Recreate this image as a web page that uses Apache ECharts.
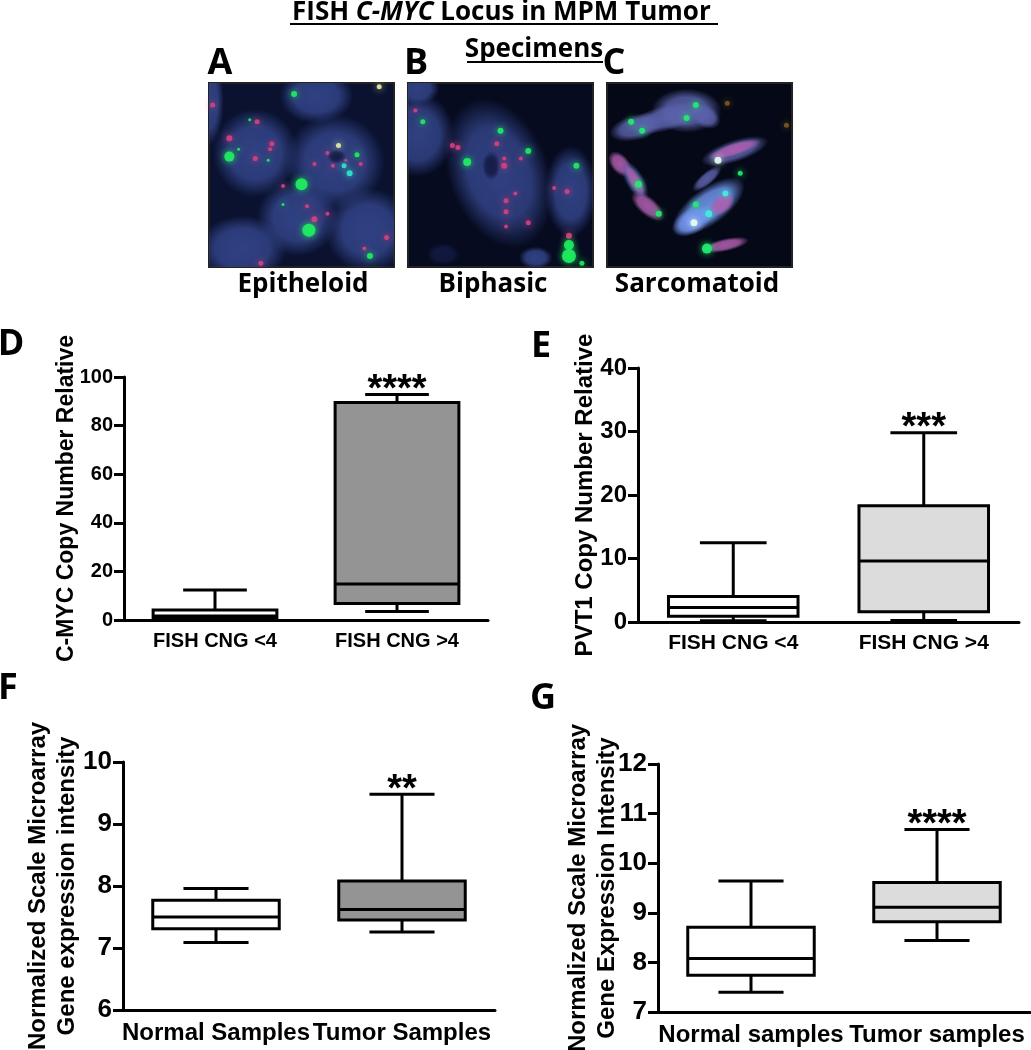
<!DOCTYPE html>
<html>
<head>
<meta charset="utf-8">
<title>FISH C-MYC</title>
<script src="https://cdn.jsdelivr.net/npm/echarts@6/dist/echarts.min.js"></script>
<style>
html, body { margin: 0; padding: 0; background: #fff; }
#main { width: 1031px; height: 1050px; }
</style>
</head>
<body>
<div id="main"></div>
<script>
// box rows are low, q1, median, q3, high
var catsCng = ["FISH CNG <4", "FISH CNG >4"];
var catsF = ["Normal Samples", "Tumor Samples"];
var catsG = ["Normal samples", "Tumor samples"];
var boxD = [[0.1, 0.7, 1.6, 4.1, 12.3], [3.5, 6.8, 14.8, 89.5, 92.8]];
var boxE = [[0.2, 0.9, 2.3, 4.0, 12.5], [0.25, 1.6, 9.6, 18.3, 29.8]];
var boxF = [[7.09, 7.31, 7.5, 7.77, 7.96], [7.26, 7.45, 7.62, 8.08, 9.48]];
var boxG = [[7.4, 7.74, 8.08, 8.71, 9.64], [8.44, 8.82, 9.11, 9.61, 10.68]];
var starsD = "****";
var starsE = "***";
var starsF = "**";
var starsG = "****";

// micrograph panels, coordinates are percent of the image
// nuclei rows are x, y, rx, ry, angle, kind (0 blue, 1 pink, 2 bright blue, 3 lilac, 4 dark hole)
var nucleiA = [[48, 73, 22, 21, 0, 0], [25, 38, 23, 24, 0, 0], [68, 43, 27, 26, 0, 0], [58, 7, 20, 15, 0, 0], [86, 80, 23, 23, 0, 0],
  [18, 90, 24, 18, 0, 0], [0, 10, 8, 24, 0, 0], [69, 40, 5, 4, 0, 4]];
var nucleiB = [[49, 49, 27, 42, 20, 0], [5, 28, 20, 23, 0, 0], [88, 59, 14, 25, 0, 0], [69, 95, 9, 6, 0, 0], [19, 93, 9, 6, 0, 4], [5, 3, 12, 9, 0, 0], [45, 45, 5, 8, 0, 4]];
var nucleiC = [[16, 24, 15, 7, 15, 3], [32, 19, 22, 7, 15, 3], [43, 15, 19, 12, 0, 3], [53, 18, 9, 6, -30, 3],
  [69, 37, 19, 6, 18, 3], [69, 36, 15, 3.5, 18, 1], [7, 44, 8, 5, -50, 1], [15, 53, 12, 5, -60, 3], [15, 53, 10, 3, -60, 1], [22, 67, 11, 5, -40, 1],
  [54, 52, 10, 3.5, 40, 3], [55, 67, 23, 10, 36, 2], [46, 75, 12, 7, 30, 2], [62, 66, 8, 5, 36, 1], [64, 88, 13, 3.5, 12, 1]];
var greenA = [[46, 6, 6], [11, 40, 10], [50, 55, 12], [54, 80, 13], [87, 94, 6], [80, 39, 5], [32, 42, 3], [16, 36, 3], [40, 66, 3], [22, 20, 3]];
var cyanA = [[73, 45, 5], [76, 49, 6]];
var whiteA = [[70, 34, 5], [92, 2, 5]];
var redA = [[2, 12, 5], [26, 21, 5], [11, 30, 6], [34, 33, 5], [33, 36, 4], [25, 41, 5], [64, 38, 4], [57, 44, 4], [82, 44, 4], [40, 56, 4],
  [53, 67, 4], [57, 74, 6], [64, 71, 4], [96, 84, 5], [84, 90, 4], [28, 98, 5], [74, 42, 3], [67, 45, 4]];
var greenB = [[50, 26, 6], [8, 21, 5], [65, 37, 6], [32, 43, 8], [91, 45, 6], [87, 88, 10], [87, 94, 14], [94, 98, 5]];
var redB = [[4, 15, 4], [24, 34, 5], [27, 35, 5], [48, 33, 5], [52, 45, 6], [52, 41, 4], [61, 41, 4], [58, 60, 4], [53, 64, 5], [53, 70, 5],
  [53, 78, 4], [65, 76, 5], [86, 59, 5], [79, 57, 4], [87, 83, 6]];
var greenC = [[48, 12, 6], [43, 19, 6], [13, 21, 6], [19, 26, 6], [72, 49, 5], [17, 55, 7], [28, 71, 6], [48, 66, 6], [54, 90, 10]];
var cyanC = [[64, 60, 6], [55, 71, 7]];
var whiteC = [[60, 42, 7], [47, 76, 7]];
var dimC = [[65, 11, 5], [97, 23, 5]];

var font = "Liberation Sans";
var headFont = "Open Sans";

var chartDom = document.getElementById("main");
var myChart = echarts.init(chartDom);

var fills = [
  "rgba(52,70,140,",
  "rgba(175,95,175,",
  "rgba(115,150,240,",
  "rgba(92,98,172,",
  "rgba(18,26,66,",
];

function renderNucleus(params, api) {
  var p = api.coord([api.value(0), api.value(1)]);
  var s = api.size([api.value(2), api.value(3)]);
  var c = fills[api.value(5)];
  return {
    type: "circle",
    x: p[0],
    y: p[1],
    scaleX: s[0],
    scaleY: s[1],
    rotation: (api.value(4) * Math.PI) / 180,
    shape: { cx: 0, cy: 0, r: 1 },
    style: {
      fill: new echarts.graphic.RadialGradient(0.5, 0.5, 0.5, [
        { offset: 0, color: c + "0.9)" },
        { offset: 0.6, color: c + "0.8)" },
        { offset: 1, color: c + "0)" },
      ]),
    },
  };
}

function renderBox(fill, stars) {
  return function (params, api) {
    var x = api.value(0);
    var band = api.size([1, 0])[0];
    var half = band * 0.34;
    var cap = band * 0.175;
    var cx = api.coord([x, 0])[0];
    var low = api.coord([x, api.value(1)])[1];
    var q1 = api.coord([x, api.value(2)])[1];
    var med = api.coord([x, api.value(3)])[1];
    var q3 = api.coord([x, api.value(4)])[1];
    var high = api.coord([x, api.value(5)])[1];
    var line = { stroke: "#000", lineWidth: 3 };
    function seg(x1, y1, x2, y2) {
      return { type: "line", shape: { x1: x1, y1: y1, x2: x2, y2: y2 }, style: line };
    }
    var kids = [
      seg(cx, high, cx, q3),
      seg(cx - cap, high, cx + cap, high),
      seg(cx, q1, cx, low),
      seg(cx - cap, low, cx + cap, low),
      {
        type: "rect",
        shape: { x: cx - half, y: q3, width: half * 2, height: q1 - q3 },
        style: { fill: fill[params.dataIndex], stroke: "#000", lineWidth: 3 },
      },
      seg(cx - half, med, cx + half, med),
    ];
    if (params.dataIndex === 1) {
      kids.push({
        type: "text",
        x: cx,
        y: high + 15,
        style: {
          text: stars,
          font: "bold 38px '" + font + "'",
          fill: "#000",
          textAlign: "center",
          textVerticalAlign: "bottom",
        },
      });
    }
    return { type: "group", children: kids };
  };
}

function boxData(rows) {
  return rows.map(function (r, i) {
    return [i].concat(r);
  });
}

function spotSeries(idx, color, data) {
  return {
    type: "scatter",
    xAxisIndex: idx,
    yAxisIndex: idx,
    silent: true,
    clip: true,
    symbolSize: function (v) {
      return v[2];
    },
    itemStyle: { color: color, shadowColor: color, shadowBlur: 7, opacity: 0.9 },
    data: data,
  };
}

function nucleiSeries(idx, data) {
  return {
    type: "custom",
    xAxisIndex: idx,
    yAxisIndex: idx,
    silent: true,
    clip: true,
    renderItem: renderNucleus,
    data: data,
  };
}

function imgGrid(left, bg) {
  return {
    left: left,
    top: 83,
    width: 185,
    height: 184,
    show: true,
    backgroundColor: bg,
    borderColor: "#222",
    borderWidth: 2,
    outerBoundsMode: "none",
  };
}

function plotGrid(left, top, width, height) {
  return { left: left, top: top, width: width, height: height, outerBoundsMode: "none" };
}

function catAxis(idx, cats, size) {
  return {
    gridIndex: idx,
    type: "category",
    data: cats,
    axisLine: { lineStyle: { color: "#000", width: 3 } },
    axisTick: { alignWithLabel: true, length: 8, lineStyle: { color: "#000", width: 3 } },
    axisLabel: { color: "#000", fontFamily: font, fontWeight: "bold", fontSize: size, margin: 11, interval: 0 },
  };
}

function valAxis(idx, min, max, step, size, name, gap, nameSize) {
  return {
    gridIndex: idx,
    type: "value",
    min: min,
    max: max,
    interval: step,
    splitLine: { show: false },
    axisLine: { show: true, lineStyle: { color: "#000", width: 3 } },
    axisTick: { show: true, length: 10, lineStyle: { color: "#000", width: 3 } },
    axisLabel: { color: "#000", fontFamily: font, fontWeight: "bold", fontSize: size, margin: 11 },
    name: name,
    nameLocation: "middle",
    nameGap: gap,
    nameMoveOverlap: false,
    nameTextStyle: { color: "#000", fontFamily: font, fontWeight: "bold", fontSize: nameSize, lineHeight: 29 },
  };
}

function hidden(idx, type) {
  var a = { gridIndex: idx, type: "value", min: 0, max: 100, show: false };
  if (type === "y") a.inverse = true;
  return a;
}

function head(x, y, text, size) {
  return {
    type: "text",
    x: x,
    y: y,
    style: {
      text: text,
      font: "bold " + size + "px '" + headFont + "'",
      fill: "#000",
      textAlign: "center",
      textVerticalAlign: "middle",
    },
  };
}

function rule(x1, x2, y) {
  return { type: "line", shape: { x1: x1, y1: y, x2: x2, y2: y }, style: { stroke: "#000", lineWidth: 2 } };
}

var option = {
  animation: false,
  backgroundColor: "#fff",
  title: {
    text: "FISH {i|C-MYC} Locus in MPM Tumor",
    left: 287,
    top: -5,
    textStyle: {
      fontFamily: headFont,
      fontWeight: "bold",
      fontSize: 26,
      color: "#000",
      rich: { i: { fontFamily: headFont, fontWeight: "bold", fontStyle: "italic", fontSize: 26, color: "#000" } },
    },
  },
  grid: [
    imgGrid(209, "#0a1230"),
    imgGrid(408, "#060b20"),
    imgGrid(607, "#050817"),
    plotGrid(124, 377, 364, 243),
    plotGrid(638, 368, 381, 254),
    plotGrid(123, 762, 372, 248),
    plotGrid(658, 764, 372, 248),
  ],
  xAxis: [
    hidden(0, "x"),
    hidden(1, "x"),
    hidden(2, "x"),
    catAxis(3, catsCng, 20),
    catAxis(4, catsCng, 21),
    catAxis(5, catsF, 24),
    catAxis(6, catsG, 24),
  ],
  yAxis: [
    hidden(0, "y"),
    hidden(1, "y"),
    hidden(2, "y"),
    valAxis(3, 0, 100, 20, 20, "C-MYC Copy Number Relative", 43, 23),
    valAxis(4, 0, 40, 10, 24, "PVT1 Copy Number Relative", 38, 24),
    valAxis(5, 6, 10, 1, 26, "Normalized Scale Microarray\nGene expression intensity", 41, 24),
    valAxis(6, 7, 12, 1, 26, "Normalized Scale Microarray\nGene Expression Intensity", 36, 24),
  ],
  series: [
    nucleiSeries(0, nucleiA),
    spotSeries(0, "#d8407f", redA),
    spotSeries(0, "#1fee60", greenA),
    spotSeries(0, "#30e8c8", cyanA),
    spotSeries(0, "#e8f0a0", whiteA),
    nucleiSeries(1, nucleiB),
    spotSeries(1, "#d8407f", redB),
    spotSeries(1, "#1fee60", greenB),
    nucleiSeries(2, nucleiC),
    spotSeries(2, "#7a5a20", dimC),
    spotSeries(2, "#1fee70", greenC),
    spotSeries(2, "#40f0e0", cyanC),
    spotSeries(2, "#e8fff0", whiteC),
    {
      type: "custom",
      xAxisIndex: 3,
      yAxisIndex: 3,
      renderItem: renderBox(["#fff", "#949494"], starsD),
      encode: { x: 0, y: [1, 2, 3, 4, 5] },
      data: boxData(boxD),
    },
    {
      type: "custom",
      xAxisIndex: 4,
      yAxisIndex: 4,
      renderItem: renderBox(["#fff", "#dcdcdc"], starsE),
      encode: { x: 0, y: [1, 2, 3, 4, 5] },
      data: boxData(boxE),
    },
    {
      type: "custom",
      xAxisIndex: 5,
      yAxisIndex: 5,
      renderItem: renderBox(["#fff", "#949494"], starsF),
      encode: { x: 0, y: [1, 2, 3, 4, 5] },
      data: boxData(boxF),
    },
    {
      type: "custom",
      xAxisIndex: 6,
      yAxisIndex: 6,
      renderItem: renderBox(["#fff", "#dcdcdc"], starsG),
      encode: { x: 0, y: [1, 2, 3, 4, 5] },
      data: boxData(boxG),
    },
  ],
  graphic: [
    rule(290, 718, 24),
    head(534, 50, "Specimens", 26),
    rule(467, 603, 62),
    head(220, 64, "A", 36),
    head(416, 64, "B", 36),
    head(614, 64, "C", 36),
    head(303, 285, "Epitheloid", 26),
    head(493, 285, "Biphasic", 26),
    head(697, 285, "Sarcomatoid", 26),
    head(11, 345, "D", 36),
    head(541, 347, "E", 36),
    head(8, 689, "F", 36),
    head(543, 699, "G", 36),
  ],
};

option && myChart.setOption(option);
</script>
</body>
</html>
